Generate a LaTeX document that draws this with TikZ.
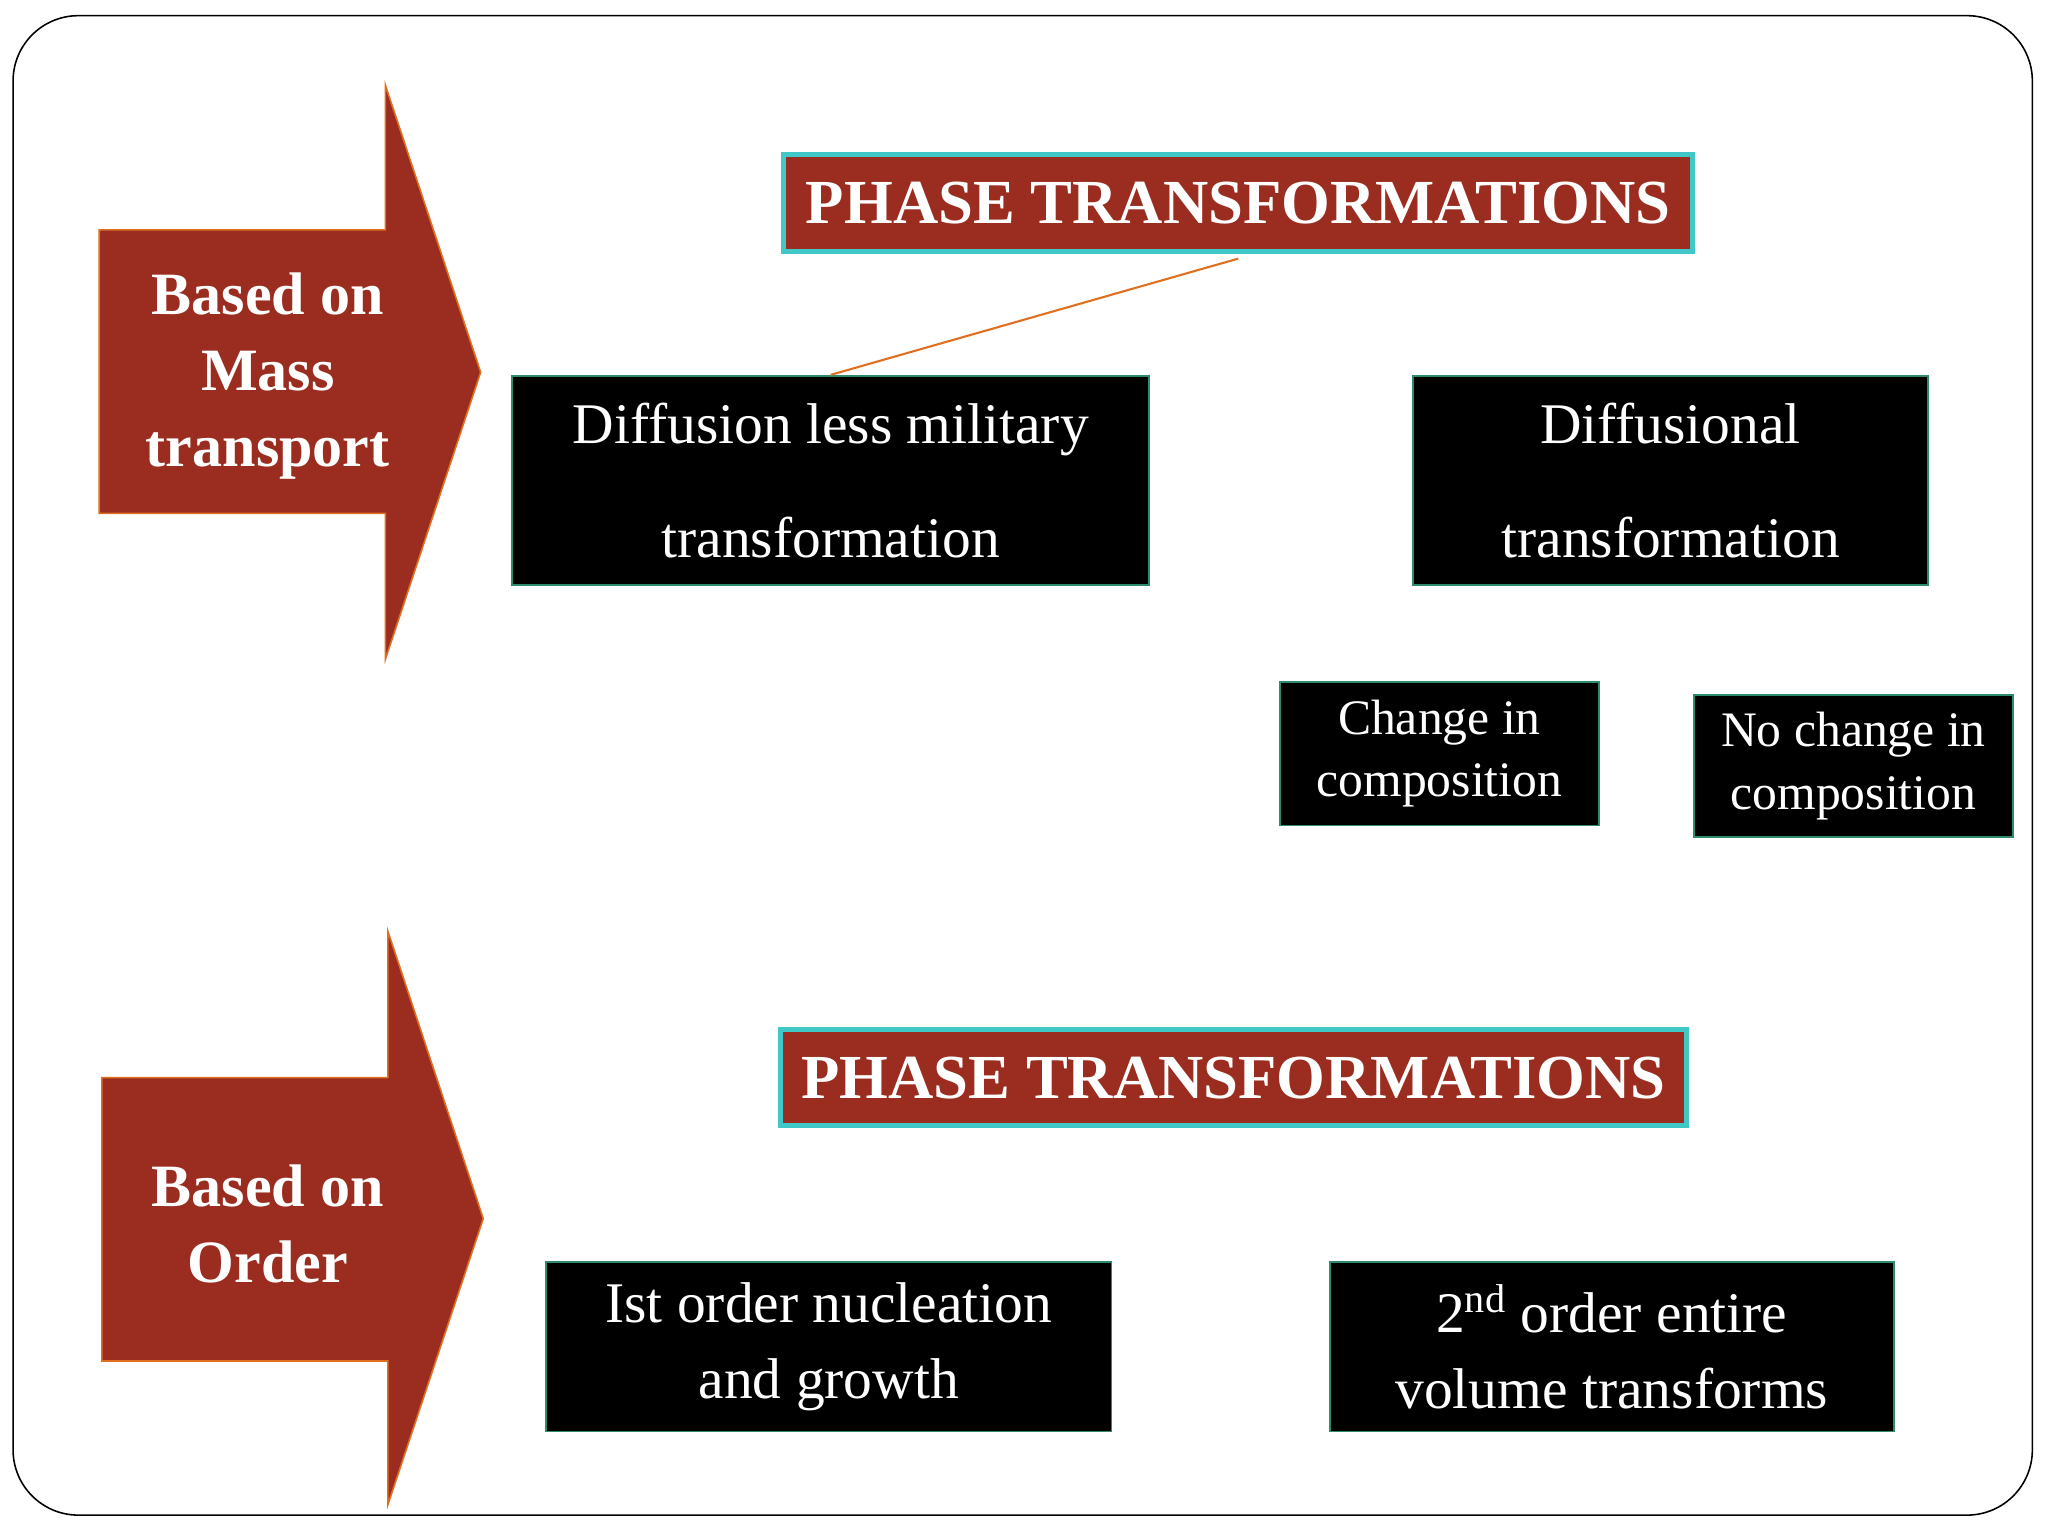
\documentclass[tikz,border=0pt]{standalone}
\usepackage{fontspec}
\setmainfont{Liberation Serif}
\definecolor{brick}{HTML}{9B2D20}
\definecolor{edgeor}{HTML}{E07020}
\definecolor{cyanb}{HTML}{40C8C8}
\definecolor{tealb}{HTML}{2E8B6E}
\begin{document}
\begin{tikzpicture}[x=0.5pt,y=-0.5pt,
  title/.style={fill=brick,draw=cyanb,line width=2pt,text=white,font=\bfseries\fontsize{24}{28}\selectfont,inner sep=0pt},
  bbox/.style={fill=black,draw=tealb,line width=0.7pt,text=white,align=center,inner sep=0pt},
  arrowshape/.style={fill=brick,draw=edgeor,line width=0.6pt},
  conn/.style={draw=edgeor,line width=0.8pt}]
\useasboundingbox (0,0) rectangle (1568,1176);
\draw[line width=0.6pt,rounded corners=25pt,fill=white] (10,12) rectangle (1556,1160);
% arrows
\draw[arrowshape] (76,176)--(295,176)--(295,65)--(368,285)--(295,505)--(295,393)--(76,393)--cycle;
\node[text=white,align=center,font=\bfseries\fontsize{23}{29}\selectfont] (arr1) at (205,288) {Based on\\Mass\\transport};
\draw[arrowshape] (78,825)--(297,825)--(297,713)--(370,933)--(297,1152)--(297,1042)--(78,1042)--cycle;
\node[text=white,align=center,font=\bfseries\fontsize{23}{29}\selectfont] (arr2) at (205,937) {Based on\\Order};
% titles
\node[title,minimum width=348pt,minimum height=37pt] (t1) at (948,155.5) {PHASE TRANSFORMATIONS};
\node[title,minimum width=347pt,minimum height=37pt] (t2) at (944.5,825) {PHASE TRANSFORMATIONS};
% boxes
\node[bbox,minimum width=244pt,minimum height=80pt,font=\fontsize{22}{43.5}\selectfont] (a) at (636,368) {Diffusion less military\\transformation};
\node[bbox,minimum width=197pt,minimum height=80pt,font=\fontsize{22}{43.5}\selectfont] (b) at (1279,368) {Diffusional\\transformation};
\node[bbox,minimum width=122pt,minimum height=55pt,font=\fontsize{19}{24}\selectfont] (c) at (1102,577) {Change in\\composition};
\node[bbox,minimum width=122pt,minimum height=54.5pt,font=\fontsize{19}{24}\selectfont] (d) at (1419,586.5) {No change in\\composition};
\node[bbox,minimum width=216.5pt,minimum height=65pt,font=\fontsize{22}{29}\selectfont] (e) at (634.5,1031) {Ist order nucleation\\and growth};
\node[bbox,minimum width=216pt,minimum height=65pt,font=\fontsize{22}{29}\selectfont] (f) at (1234,1031) {2\textsuperscript{nd} order entire\\volume transforms};
% connectors
\coordinate (j1) at (948,198);
\coordinate (j2) at (1257,448);
\coordinate (j3) at (945,862);
\draw[conn] (j1) -- (733,287 -| a.north) ;
\end{tikzpicture}
\end{document}
